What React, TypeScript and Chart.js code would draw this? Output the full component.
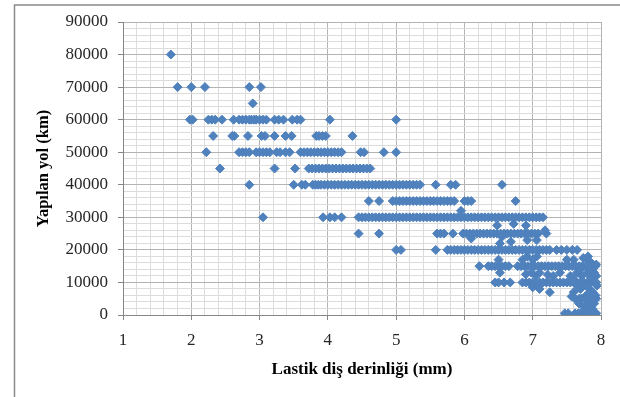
import { useEffect, useRef } from 'react';
import { Chart, registerables } from 'chart.js';

Chart.register(...registerables);

// Axis tick labels (major ticks)
const X_MAJOR = [1, 2, 3, 4, 5, 6, 7, 8];
const Y_MAJOR = [0, 10000, 20000, 30000, 40000, 50000, 60000, 70000, 80000, 90000];

const X_TITLE = 'Lastik diş derinliği (mm)';
const Y_TITLE = 'Yapılan yol (km)';

// Observations grouped by distance value (km): tread depths (mm)
const row80000 = [1.7];
const row70000 = [1.8, 2.0, 2.2, 2.85, 3.02];
const row65000 = [2.9];
const row60000 = [1.98, 2.02, 2.25, 2.3, 2.35, 2.45, 2.62, 2.7, 2.75, 2.8, 2.85, 2.88, 2.92, 2.95, 3.0, 3.05, 3.1, 3.22, 3.28, 3.35, 3.48, 3.55, 3.6, 4.03, 5.0];
const row55000 = [2.32, 2.6, 2.63, 2.83, 3.03, 3.08, 3.22, 3.38, 3.47, 3.83, 3.87, 3.92, 3.97, 4.36];
const row50000 = [2.22, 2.7, 2.75, 2.8, 2.85, 2.95, 3.0, 3.05, 3.1, 3.15, 3.25, 3.3, 3.38, 3.44, 3.6, 3.65, 3.7, 3.75, 3.8, 3.85, 3.9, 3.95, 4.0, 4.05, 4.1, 4.15, 4.2, 4.48, 4.53, 4.82, 5.0];
const row45000 = [2.42, 3.22, 3.52, 3.72, 3.77, 3.82, 3.87, 3.92, 3.97, 4.02, 4.07, 4.12, 4.17, 4.22, 4.27, 4.32, 4.37, 4.42, 4.47, 4.52, 4.57, 4.62];
const row40000 = [2.85, 3.5, 3.62, 3.67, 3.78, 3.82, 3.86, 3.9, 3.95, 4.0, 4.05, 4.1, 4.15, 4.2, 4.25, 4.3, 4.35, 4.4, 4.45, 4.5, 4.55, 4.6, 4.65, 4.7, 4.75, 4.8, 4.85, 4.9, 4.95, 5.0, 5.05, 5.1, 5.15, 5.2, 5.25, 5.3, 5.35, 5.58, 5.8, 5.87, 6.55];
const row35000 = [4.6, 4.75, 4.95, 5.0, 5.05, 5.1, 5.15, 5.2, 5.25, 5.3, 5.35, 5.4, 5.45, 5.5, 5.55, 5.6, 5.65, 5.7, 5.75, 5.8, 5.85, 6.0, 6.05, 6.1, 6.75];
const row30000 = [3.05, 3.93, 4.03, 4.1, 4.2, 4.45, 4.5, 4.55, 4.6, 4.65, 4.7, 4.75, 4.8, 4.85, 4.9, 4.95, 5.0, 5.05, 5.1, 5.15, 5.2, 5.25, 5.3, 5.35, 5.4, 5.45, 5.5, 5.55, 5.6, 5.65, 5.7, 5.75, 5.8, 5.85, 5.9, 5.95, 6.0, 6.05, 6.1, 6.15, 6.2, 6.25, 6.3, 6.35, 6.4, 6.45, 6.5, 6.55, 6.6, 6.65, 6.7, 6.75, 6.8, 6.85, 6.9, 6.95, 7.0, 7.05, 7.1, 7.15];
const row25000 = [4.45, 4.75, 5.6, 5.65, 5.7, 5.83, 5.98, 6.03, 6.08, 6.13, 6.18, 6.23, 6.28, 6.33, 6.38, 6.43, 6.48, 6.53, 6.58, 6.63, 6.68, 6.73, 6.78, 6.83, 6.88, 6.93, 6.98, 7.03, 7.08, 7.2];
const row20000 = [5.0, 5.07, 5.58, 5.75, 5.8, 5.85, 5.9, 5.95, 6.0, 6.05, 6.1, 6.15, 6.2, 6.25, 6.3, 6.35, 6.4, 6.45, 6.5, 6.55, 6.6, 6.65, 6.7, 6.75, 6.8, 6.85, 6.9, 6.95, 7.0, 7.05, 7.1, 7.15, 7.2, 7.25, 7.35, 7.42, 7.5, 7.58, 7.65];
const row15000 = [6.22, 6.35, 6.4, 6.45, 6.5, 6.55, 6.6, 6.65, 6.78, 6.83, 6.88, 6.93, 6.98, 7.03, 7.08, 7.13, 7.18, 7.23, 7.28, 7.33, 7.38, 7.43, 7.48, 7.53, 7.58, 7.63, 7.68, 7.73, 7.78, 7.83, 7.88, 7.92];
const row10000 = [6.45, 6.5, 6.58, 6.67, 6.85, 6.9, 6.95, 7.0, 7.05, 7.1, 7.15, 7.2, 7.25, 7.3, 7.35, 7.4, 7.45, 7.5, 7.55, 7.6, 7.65, 7.7, 7.75, 7.8, 7.85, 7.9, 7.93];
const row5000 = [7.62, 7.68, 7.72, 7.78, 7.83, 7.88, 7.93];
const row500 = [7.47, 7.52, 7.62, 7.67, 7.72, 7.78, 7.82, 7.86, 7.9, 7.93];

// Scattered observations between the main rows
const extraX = [5.95, 6.1, 6.48, 6.55, 6.52, 6.68, 6.72, 6.9, 6.92, 7.06, 7.18, 6.5, 6.52, 6.85, 6.92, 7.06, 7.0, 6.9, 6.98, 7.05, 7.1, 7.22, 7.0, 7.1, 7.25, 7.3, 7.4, 7.5, 7.55, 7.57, 7.6, 7.6, 7.65, 7.68, 7.69, 7.7, 7.72, 7.74, 7.75, 7.78, 7.79, 7.8, 7.81, 7.82, 7.83, 7.85, 7.86, 7.87, 7.88, 7.9, 7.9, 7.92, 7.93, 7.94, 7.93, 7.85, 7.8, 7.9, 7.7, 7.6, 7.85, 7.75, 7.8, 7.9, 7.65];
const extraY = [32000, 23500, 27500, 24000, 22000, 22500, 28000, 27500, 23000, 23000, 26000, 17000, 13000, 17000, 18000, 18000, 17000, 12500, 13000, 12000, 13000, 12400, 8500, 8000, 7000, 12000, 13000, 17000, 12000, 5700, 7000, 17000, 13000, 3500, 5000, 8000, 12000, 17500, 2500, 6000, 17000, 13000, 18000, 4000, 8000, 11500, 16000, 2000, 7000, 13000, 3500, 6000, 12000, 9000, 15500, 5000, 9000, 10500, 14000, 11000, 14000, 1500, 2500, 1000, 9000];

const ROWS: [number, number[]][] = [
  [80000, row80000], [70000, row70000], [65000, row65000], [60000, row60000],
  [55000, row55000], [50000, row50000], [45000, row45000], [40000, row40000],
  [35000, row35000], [30000, row30000], [25000, row25000], [20000, row20000],
  [15000, row15000], [10000, row10000], [5000, row5000], [500, row500],
];

function buildPoints() {
  const pts: { x: number; y: number }[] = [];
  for (const [y, xs] of ROWS) for (const x of xs) pts.push({ x, y });
  for (let i = 0; i < extraX.length; i++) pts.push({ x: extraX[i], y: extraY[i] });
  return pts;
}

const isMajor = (list: number[], v: number) => list.some((m) => Math.abs(m - v) < 1e-6);

const SERIF = "'Liberation Serif', 'Times New Roman', serif";
const MAJOR_GRID = '#b3b3b3';
const MINOR_GRID = '#dcdcdc';
const AXIS = '#868686';

const framePlugin = {
  id: 'frame',
  afterDraw(chart: any) {
    const ctx = chart.ctx;
    ctx.save();
    ctx.strokeStyle = '#8a8a8a';
    ctx.lineWidth = 1.5;
    ctx.beginPath();
    ctx.moveTo(14.5, 397);
    ctx.lineTo(14.5, 5);
    ctx.lineTo(620, 5);
    ctx.stroke();
    ctx.restore();
  },
};

export default function App() {
  const ref = useRef<HTMLCanvasElement | null>(null);
  useEffect(() => {
    if (!ref.current) return;
    const chart = new Chart(ref.current, {
      type: 'scatter',
      data: {
        datasets: [
          {
            data: buildPoints(),
            pointStyle: 'rectRot',
            pointRadius: 4.5,
            pointBorderWidth: 1,
            backgroundColor: '#4F81BD',
            borderColor: '#4F81BD',
          },
        ],
      },
      options: {
        animation: false,
        responsive: false,
        events: [],
        layout: { padding: { top: 22, right: 19, left: 0, bottom: 0 } },
        plugins: { legend: { display: false }, tooltip: { enabled: false } },
        scales: {
          x: {
            type: 'linear',
            min: 1,
            max: 8,
            afterFit: (s: any) => { s.height = 82; },
            ticks: {
              stepSize: 0.2,
              autoSkip: false,
              maxRotation: 0,
              padding: 10,
              color: '#262626',
              font: { family: SERIF, size: 17 },
              callback: (v: any) => (isMajor(X_MAJOR, Number(v)) ? String(Math.round(Number(v))) : ''),
            },
            grid: {
              color: (c: any) => (isMajor(X_MAJOR, c.tick?.value) ? MAJOR_GRID : MINOR_GRID),
              tickColor: (c: any) => (isMajor(X_MAJOR, c.tick?.value) ? AXIS : 'rgba(0,0,0,0)'),
              tickLength: 5,
            },
            border: { color: AXIS, width: 1 },
            title: {
              display: true,
              text: X_TITLE,
              color: '#000',
              font: { family: SERIF, size: 17, weight: 'bold' },
              padding: { top: 0, bottom: 17 },
            },
          },
          y: {
            type: 'linear',
            min: 0,
            max: 90000,
            afterFit: (s: any) => { s.width = 123; },
            ticks: {
              stepSize: 2000,
              autoSkip: false,
              padding: 10,
              color: '#262626',
              font: { family: SERIF, size: 17 },
              callback: (v: any) => (isMajor(Y_MAJOR, Number(v)) ? String(Math.round(Number(v))) : ''),
            },
            grid: {
              color: (c: any) => (isMajor(Y_MAJOR, c.tick?.value) ? MAJOR_GRID : MINOR_GRID),
              tickColor: (c: any) => (isMajor(Y_MAJOR, c.tick?.value) ? AXIS : 'rgba(0,0,0,0)'),
              tickLength: 5,
            },
            border: { color: AXIS, width: 1 },
            title: {
              display: true,
              text: Y_TITLE,
              color: '#000',
              font: { family: SERIF, size: 16.5, weight: 'bold' },
              padding: { top: 34, bottom: 0 },
            },
          },
        },
      },
      plugins: [framePlugin],
    } as any);
    return () => chart.destroy();
  }, []);
  return (
    <div style={{ position: 'absolute', left: 0, top: 0, width: 620, height: 397, background: '#fff' }}>
      <canvas ref={ref} width={620} height={397} style={{ width: 620, height: 397, display: 'block' }} />
    </div>
  );
}
